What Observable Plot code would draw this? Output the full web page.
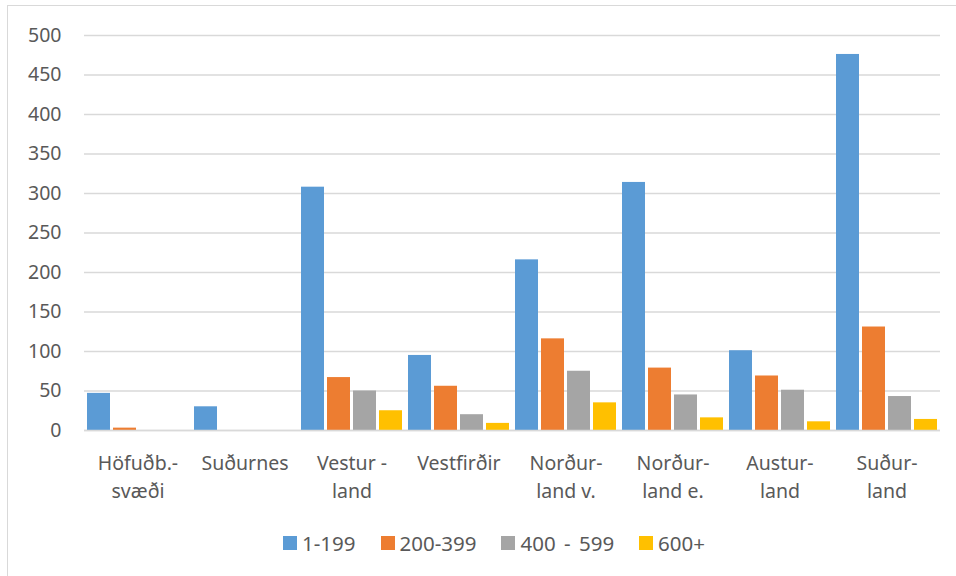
<!DOCTYPE html>
<html>
<head>
<meta charset="utf-8">
<script src="https://cdn.jsdelivr.net/npm/d3@7"></script>
<script src="https://cdn.jsdelivr.net/npm/@observablehq/plot@0.6"></script>
<style>
  html, body { margin: 0; padding: 0; background: #fff; overflow: hidden; }
  body { width: 956px; height: 576px; position: relative; font-family: "Noto Sans", sans-serif; }
  #frame { position: absolute; left: 7px; top: 5px; width: 1000px; height: 600px; border: 1.3px solid #d9d9d9; box-sizing: border-box; }
  #chart { position: absolute; left: 0; top: 0; }
  #legend { position: absolute; left: 283px; top: 529px; display: flex; align-items: center; font-size: 20.5px; color: #595959; }
  .item { display: flex; align-items: center; margin-right: 25px; }
  .item.wide span { word-spacing: 3px; }
  .sw { width: 14px; height: 14px; margin-right: 5px; }
</style>
</head>
<body>
<div id="frame"></div>
<div id="chart"></div>
<div id="legend"></div>
<script>
const categories = ["Höfuðb.-svæði", "Suðurnes", "Vestur -land", "Vestfirðir", "Norðurland v.", "Norðurland e.", "Austurland", "Suðurland"];
const categoryLabels = ["Höfuðb.-\nsvæði", "Suðurnes", "Vestur -\nland", "Vestfirðir", "Norður-\nland v.", "Norður-\nland e.", "Austur-\nland", "Suður-\nland"];
const seriesNames = ["1-199", "200-399", "400 - 599", "600+"];
const seriesColors = ["#5B9BD5", "#ED7D31", "#A5A5A5", "#FFC000"];
const s1_199   = [47, 30, 308, 95, 216, 314, 101, 476];
const s200_399 = [3, 0, 67, 56, 116, 79, 69, 131];
const s400_599 = [0, 0, 50, 20, 75, 45, 51, 43];
const s600p    = [0, 0, 25, 9, 35, 16, 11, 14];
const yTicks = [0, 50, 100, 150, 200, 250, 300, 350, 400, 450, 500];

const seriesValues = [s1_199, s200_399, s400_599, s600p];
const data = [];
categories.forEach((c, i) => {
  seriesNames.forEach((s, j) => {
    data.push({region: c, series: s, value: seriesValues[j][i]});
  });
});
const labelOf = new Map(categories.map((c, i) => [c, categoryLabels[i]]));

const chart = Plot.plot({
  width: 956,
  height: 510,
  marginTop: 35,
  marginBottom: 80,
  marginLeft: 84,
  marginRight: 16,
  style: {fontFamily: "Noto Sans, sans-serif", fontSize: "19.5px", color: "#595959", background: "transparent", overflow: "visible"},
  fx: {domain: categories, padding: 0, label: null},
  x: {domain: seriesNames, paddingInner: 0.1, paddingOuter: 0.05, axis: null},
  y: {domain: [0, 500], label: null},
  color: {domain: seriesNames, range: seriesColors},
  marks: [
    Plot.gridY(yTicks, {stroke: "#d9d9d9", strokeOpacity: 1, strokeWidth: 1.3}),
    Plot.barY(data, {fx: "region", x: "series", y: "value", fill: "series"}),
    Plot.ruleY([0], {stroke: "#d9d9d9", strokeWidth: 1.3}),
    Plot.axisY({ticks: yTicks, tickSize: 0, tickPadding: 23, label: null, fill: "#595959", fontSize: 19.5}),
    Plot.axisFx({anchor: "bottom", tickSize: 0, tickPadding: 20, label: null, tickFormat: d => labelOf.get(d), lineHeight: 1.42, fill: "#595959", fontSize: 19.5})
  ]
});
document.getElementById("chart").appendChild(chart);

const legend = document.getElementById("legend");
seriesNames.forEach((s, j) => {
  const item = document.createElement("div");
  item.className = "item" + (s.includes(" ") ? " wide" : "");
  const sw = document.createElement("div");
  sw.className = "sw";
  sw.style.background = seriesColors[j];
  const t = document.createElement("span");
  t.textContent = s;
  item.appendChild(sw);
  item.appendChild(t);
  legend.appendChild(item);
});
</script>
</body>
</html>
